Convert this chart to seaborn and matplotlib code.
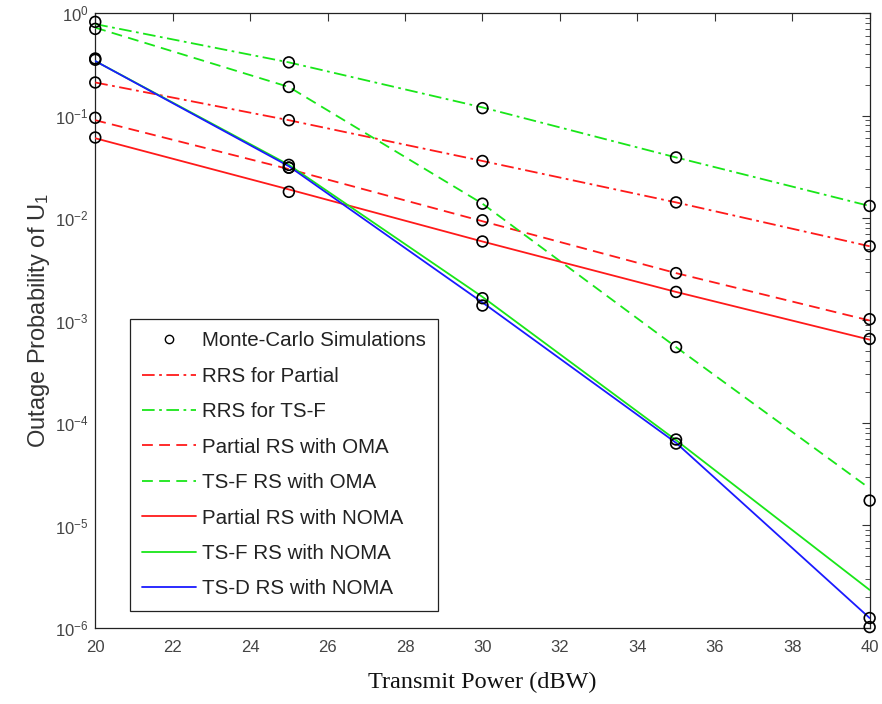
import matplotlib
matplotlib.use("Agg")
import matplotlib.pyplot as plt
from matplotlib.lines import Line2D
import seaborn as sns
import numpy as np
import pandas as pd

# ---- data ----
power_dbw = [20, 25, 30, 35, 40]

series_names = [
    "RRS for Partial",
    "RRS for TS-F",
    "Partial RS with OMA",
    "TS-F RS with OMA",
    "Partial RS with NOMA",
    "TS-F RS with NOMA",
    "TS-D RS with NOMA",
]

# analytical curves
rrs_partial = [0.21, 0.09, 0.036, 0.0142, 0.0053]
rrs_tsf = [0.78, 0.33, 0.12, 0.039, 0.0131]
partial_oma = [0.09, 0.030, 0.0093, 0.0029, 0.00100]
tsf_oma = [0.72, 0.19, 0.0138, 0.00055, 2.3e-5]
partial_noma = [0.060, 0.019, 0.0059, 0.0019, 0.00065]
tsf_noma = [0.34, 0.033, 0.0017, 6.8e-5, 2.35e-6]
tsd_noma = [0.34, 0.032, 0.0015, 6.4e-5, 1.25e-6]

# Monte-Carlo simulation points
sim_rrs_partial = [0.21, 0.09, 0.036, 0.0142, 0.0053]
sim_rrs_tsf = [0.82, 0.33, 0.118, 0.039, 0.0131]
sim_partial_oma = [0.095, 0.031, 0.0095, 0.0029, 0.00103]
sim_tsf_oma = [0.70, 0.19, 0.0138, 0.00055, 1.75e-5]
sim_partial_noma = [0.061, 0.018, 0.0059, 0.0019, 0.00066]
sim_tsf_noma = [0.36, 0.033, 0.00165, 6.9e-5, 1.02e-6]
sim_tsd_noma = [0.35, 0.031, 0.0014, 6.3e-5, 1.25e-6]

x_ticks = [20, 22, 24, 26, 28, 30, 32, 34, 36, 38, 40]
y_ticks = [1e-6, 1e-5, 1e-4, 1e-3, 1e-2, 1e-1, 1e0]

analytic = [rrs_partial, rrs_tsf, partial_oma, tsf_oma, partial_noma, tsf_noma, tsd_noma]
sims = [sim_rrs_partial, sim_rrs_tsf, sim_partial_oma, sim_tsf_oma,
        sim_partial_noma, sim_tsf_noma, sim_tsd_noma]

# ---- styles ----
RED = "#ff1a1a"
GREEN = "#19e619"
BLUE = "#1a1aff"
DASHDOT = (0, (7, 2.5, 1.5, 2.5))
DASH = (0, (6, 3.5))
styles = [
    (RED, DASHDOT),
    (GREEN, DASHDOT),
    (RED, DASH),
    (GREEN, DASH),
    (RED, "-"),
    (GREEN, "-"),
    (BLUE, "-"),
]

sns.set_style("white")
plt.rcParams["font.family"] = ["Liberation Sans", "DejaVu Sans"]
plt.rcParams["mathtext.fontset"] = "custom"
plt.rcParams["mathtext.rm"] = "Liberation Sans"
plt.rcParams["mathtext.it"] = "Liberation Sans"

fig = plt.figure(figsize=(8.82, 7.04), dpi=100)
ax = fig.add_axes([0.108, 0.108, 0.878, 0.8735])

for name, vals, (c, ls) in zip(series_names, analytic, styles):
    df = pd.DataFrame({"x": power_dbw, "y": vals})
    sns.lineplot(data=df, x="x", y="y", ax=ax, color=c, linewidth=1.3,
                 linestyle=ls, zorder=3)

for vals in sims:
    df = pd.DataFrame({"x": power_dbw, "y": vals})
    sns.scatterplot(data=df, x="x", y="y", ax=ax, marker="o", s=60,
                    facecolor="none", edgecolor="black", linewidth=1.2,
                    zorder=4, clip_on=False)

ax.set_yscale("log")
ax.set_xlim(20, 40)
ax.set_ylim(1e-6, 1e0)
ax.set_xticks(x_ticks)
ax.set_xticklabels([str(t) for t in x_ticks])
ax.set_yticks(y_ticks)
ax.set_yticklabels([r"$10^{%d}$" % int(np.log10(t)) for t in y_ticks])

ax.tick_params(axis="both", which="both", direction="in", top=True, right=True,
               labelsize=12, labelcolor="#444444", color="#333333")
ax.tick_params(axis="both", which="major", length=6, width=0.8)
ax.tick_params(axis="x", which="major", pad=9)
ax.tick_params(axis="y", which="major", pad=5)
ax.tick_params(axis="y", which="minor", length=3.5, width=0.6)
for s in ax.spines.values():
    s.set_color("#222222")
    s.set_linewidth(0.9)

ax.set_xlabel("Transmit Power (dBW)", family="Liberation Serif", fontsize=17.5,
              color="#111111", labelpad=12)
ax.set_ylabel(r"Outage Probability of U$_{1}$", fontsize=17,
              color="#333333", labelpad=2)

handles = [Line2D([], [], linestyle="none", marker="o", markersize=6,
                  markerfacecolor="none", markeredgecolor="black",
                  markeredgewidth=1.0)]
labels = ["Monte-Carlo Simulations"]
for name, (c, ls) in zip(series_names, styles):
    handles.append(Line2D([], [], color=c, linestyle=ls, linewidth=1.3))
    labels.append(name)

leg = ax.legend(handles, labels, loc="lower left", bbox_to_anchor=(0.045, 0.028),
                borderaxespad=0, fontsize=14.8, frameon=True, fancybox=False,
                edgecolor="#222222", framealpha=1, handlelength=2.6,
                handletextpad=0.3, labelspacing=0.8, borderpad=0.6)
leg.get_frame().set_linewidth(0.9)
for t in leg.get_texts():
    t.set_color("#222222")

fig.savefig("out.png", dpi=100)
